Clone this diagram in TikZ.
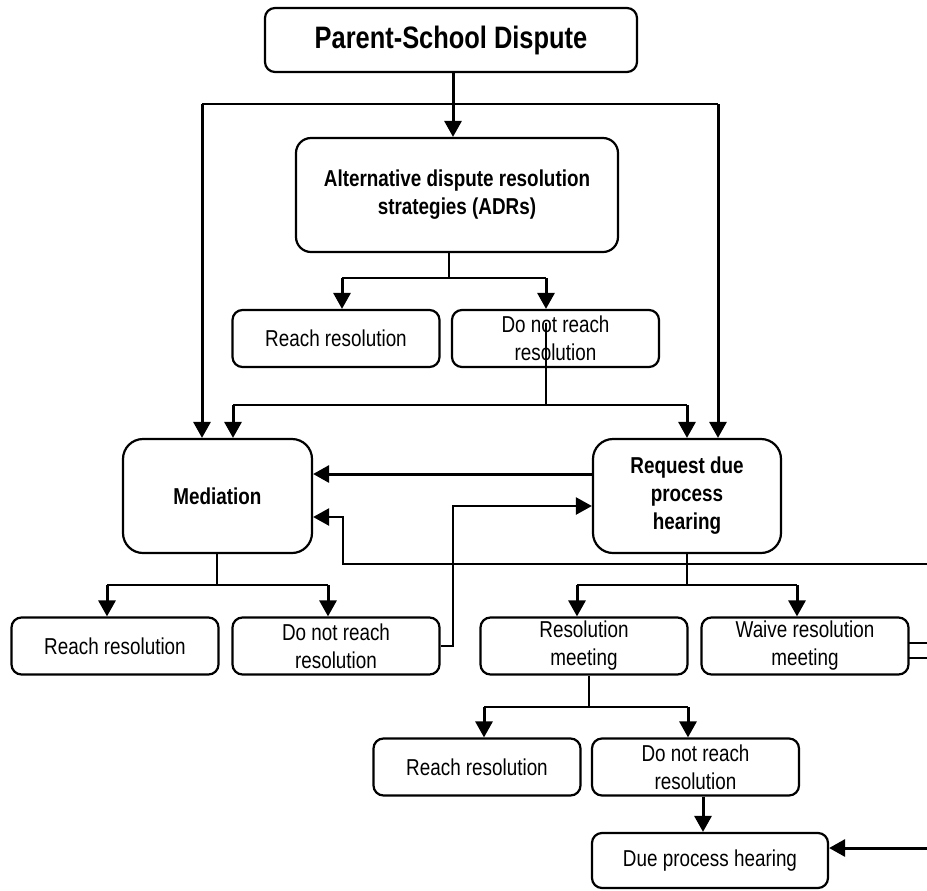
\documentclass[tikz,border=0pt]{standalone}
\usepackage{fontspec}
\setmainfont{Liberation Sans}[FakeStretch=0.82]
\usetikzlibrary{arrows.meta}

\tikzset{
  box/.style={draw, rounded corners=5pt, line width=1.1pt, align=center, inner sep=0pt,
    minimum width=103.5pt, minimum height=28.5pt, font=\fontsize{11.5}{14}\selectfont},
  bigbox/.style={box, rounded corners=10pt, minimum height=57pt, font=\fontsize{11.5}{14}\selectfont\bfseries},
  arr/.style={-{Triangle[length=8pt,width=8.5pt]}, line width=1.5pt},
  link/.style={line width=1.2pt}
}

\begin{document}
\begin{tikzpicture}[x=0.5pt, y=-0.5pt]
        \useasboundingbox (0,0) rectangle (927,890);

        % boxes, placed at pixel centres
        \node[box, minimum width=186pt, minimum height=32pt, font=\fontsize{15.5}{18}\selectfont\bfseries] (dispute) at (451,40) {Parent-School Dispute};
        \node[bigbox, rounded corners=7.5pt, minimum width=161pt] (adr) at (457,195) {Alternative dispute resolution\\strategies (ADRs)};
        \node[box] (adrreach) at (336,338.5) {Reach resolution};
        \node[box] (adrnot) at (555.5,338.5) {Do not reach\\resolution};
        \node[bigbox, minimum width=94.5pt] (med) at (217.5,496) {Mediation};
        \node[bigbox, minimum width=94pt] (req) at (687,496) {Request due\\process\\hearing};
        \node[box] (medreach) at (115,646) {Reach resolution};
        \node[box] (mednot) at (336,646) {Do not reach\\resolution};
        \node[box] (resmeet) at (584,646) {Resolution\\meeting};
        \node[box] (waive) at (805,646) {Waive resolution\\meeting};
        \node[box] (rmreach) at (477,767) {Reach resolution};
        \node[box] (rmnot) at (695.5,767) {Do not reach\\resolution};
        \node[box, minimum width=118pt, minimum height=27.5pt] (due) at (710,860.5) {Due process hearing};

        % junction points
        \coordinate (top) at (453,104);
        \coordinate (topL) at (202,104);
        \coordinate (topR) at (718,104);
        \coordinate (adrJ) at (449,278);
        \coordinate (adrL) at (342,278);
        \coordinate (adrR) at (546,278);
        \coordinate (notS) at (546,323);
        \coordinate (notJ) at (546,405);
        \coordinate (notL) at (233,405);
        \coordinate (notR) at (687,405);
        \coordinate (medJ) at (217,585);
        \coordinate (medL) at (107,585);
        \coordinate (medR) at (328,585);
        \coordinate (reqJ) at (687,585);
        \coordinate (reqL) at (577,585);
        \coordinate (reqR) at (797,585);
        \coordinate (rmJ) at (589,707);
        \coordinate (rmL) at (484,707);
        \coordinate (rmR) at (688,707);
        \coordinate (upB) at (453,506);
        \coordinate (bendA) at (343,517);
        \coordinate (dueX) at (703,815);
        % loose ends at the right margin
        \coordinate (edgeA) at (927,564);
        \coordinate (edgeB) at (927,643);
        \coordinate (edgeC) at (927,658);
        \coordinate (edgeD) at (927,848);

        \draw[arr] (dispute.south -| top) -- (adr.north -| top);
        \draw[link] (topL) -- (topR);
        \draw[arr] (topL) -- (topL |- med.north);
        \draw[arr] (topR) -- (topR |- req.north);

        \draw[link] (adr.south -| adrJ) -- (adrJ);
        \draw[link] (adrL) -- (adrR);
        \draw[arr] (adrL) -- (adrL |- adrreach.north);
        \draw[arr] (adrR) -- (adrR |- adrnot.north);

        \draw[link] (notS) -- (notJ);
        \draw[link] (notL) -- (notR);
        \draw[arr] (notL) -- (notL |- med.north);
        \draw[arr] (notR) -- (notR |- req.north);

        \draw[arr] ([yshift=11pt]req.west) -- ([yshift=11pt]med.east);
        \draw[arr, line width=1.2pt] (mednot.east) -| (upB) -- (upB -| req.west);
        \draw[arr, line width=1.2pt] (edgeA) -| (bendA) -- (bendA -| med.east);

        \draw[link] (med.south -| medJ) -- (medJ);
        \draw[link] (medL) -- (medR);
        \draw[arr] (medL) -- (medL |- medreach.north);
        \draw[arr] (medR) -- (medR |- mednot.north);

        \draw[link] (req.south -| reqJ) -- (reqJ);
        \draw[link] (reqL) -- (reqR);
        \draw[arr] (reqL) -- (reqL |- resmeet.north);
        \draw[arr] (reqR) -- (reqR |- waive.north);

        \draw[link] ([xshift=-1pt]waive.east |- edgeB) -- (edgeB);
        \draw[link] ([xshift=-1pt]waive.east |- edgeC) -- (edgeC);

        \draw[link] (resmeet.south -| rmJ) -- (rmJ);
        \draw[link] (rmL) -- (rmR);
        \draw[arr] (rmL) -- (rmL |- rmreach.north);
        \draw[arr] (rmR) -- (rmR |- rmnot.north);

        \draw[arr] (rmnot.south -| dueX) -- (due.north -| dueX);
        \draw[arr] (edgeD) -- (edgeD -| due.east);
\end{tikzpicture}
\end{document}
